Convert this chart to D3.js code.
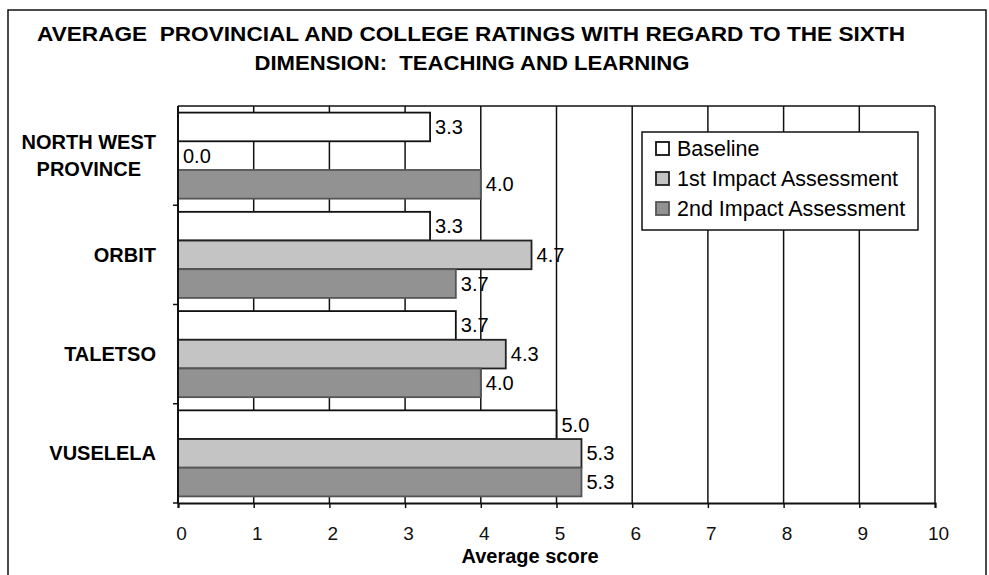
<!DOCTYPE html>
<html>
<head>
<meta charset="utf-8">
<script src="https://cdn.jsdelivr.net/npm/d3@7/dist/d3.min.js"></script>
<style>
  body { margin: 0; background: #fff; }
  svg { display: block; font-family: "Liberation Sans", Arial, sans-serif; }
</style>
</head>
<body>
<script>
'use strict';

// chart data
const categories = ["NORTH WEST PROVINCE", "ORBIT", "TALETSO", "VUSELELA"];
const categoryLines = [["NORTH WEST", "PROVINCE"], ["ORBIT"], ["TALETSO"], ["VUSELELA"]];
const seriesNames = ["Baseline", "1st Impact Assessment", "2nd Impact Assessment"];
const baseline = [3.33, 3.33, 3.67, 5.0];
const firstImpact = [0.0, 4.67, 4.33, 5.33];
const secondImpact = [4.0, 3.67, 4.0, 5.33];
const xTicks = [0, 1, 2, 3, 4, 5, 6, 7, 8, 9, 10];
const titleLines = ["AVERAGE  PROVINCIAL AND COLLEGE RATINGS WITH REGARD TO THE SIXTH",
                    "DIMENSION:  TEACHING AND LEARNING"];

(function() {

  let svg = "";

  window.onload = function() {
    svg = d3.select('body')
      .append('svg')
      .attr('width', 989)
      .attr('height', 575);

    makeBarChart();
  }

  function makeBarChart() {
    // outer frame of the chart
    svg.append('rect')
      .attr('x', 8).attr('y', 10)
      .attr('width', 978).attr('height', 575)
      .attr('fill', 'none')
      .attr('stroke', '#111')
      .attr('stroke-width', 1.5);

    // title, two lines
    let titleX = [471, 472];
    let titleLen = [868, 435];
    let titleY = [41, 70];
    titleLines.forEach((t, i) => {
      svg.append('text')
        .attr('x', titleX[i])
        .attr('y', titleY[i])
        .attr('text-anchor', 'middle')
        .attr('textLength', titleLen[i])
        .attr('lengthAdjust', 'spacingAndGlyphs')
        .style('font-size', '21px')
        .style('font-weight', 'bold')
        .style('white-space', 'pre')
        .text(t);
    });

    // scales
    let x = d3.scaleLinear()
      .domain([0, 10])
      .range([178, 935]);

    let y0 = d3.scaleBand()
      .domain(categories)
      .range([106, 503]);

    let y1 = d3.scaleBand()
      .domain(seriesNames)
      .range([0, y0.bandwidth()])
      .paddingOuter(0.23);

    // rows for bars
    let rows = [];
    categories.forEach((c, i) => {
      rows.push({cat: c, series: seriesNames[0], value: baseline[i]});
      rows.push({cat: c, series: seriesNames[1], value: firstImpact[i]});
      rows.push({cat: c, series: seriesNames[2], value: secondImpact[i]});
    });

    let fills = d3.scaleOrdinal()
      .domain(seriesNames)
      .range(['#ffffff', '#c4c4c4', '#929292']);
    let strokes = d3.scaleOrdinal()
      .domain(seriesNames)
      .range(['#111', '#222', '#555']);

    // vertical gridlines
    svg.append('g')
      .selectAll('line')
      .data(xTicks.slice(1))
      .enter()
      .append('line')
        .attr('x1', (d) => x(d))
        .attr('x2', (d) => x(d))
        .attr('y1', y0.range()[0])
        .attr('y2', y0.range()[1])
        .attr('stroke', '#111')
        .attr('stroke-width', 1.5);

    // plot area top border
    svg.append('line')
      .attr('x1', x(0)).attr('x2', x(10))
      .attr('y1', y0.range()[0]).attr('y2', y0.range()[0])
      .attr('stroke', '#111')
      .attr('stroke-width', 1.5);

    // bars
    svg.append('g')
      .selectAll('rect')
      .data(rows)
      .enter()
      .append('rect')
        .attr('x', x(0))
        .attr('y', (d) => y0(d.cat) + y1(d.series))
        .attr('width', (d) => x(d.value) - x(0))
        .attr('height', y1.bandwidth())
        .attr('fill', (d) => fills(d.series))
        .attr('stroke', (d) => strokes(d.series))
        .attr('stroke-width', 1.8);

    // value labels
    svg.append('g')
      .selectAll('text')
      .data(rows)
      .enter()
      .append('text')
        .attr('x', (d) => x(d.value) + 5)
        .attr('y', (d) => y0(d.cat) + y1(d.series) + y1.bandwidth() / 2)
        .attr('dy', '0.35em')
        .style('font-size', '20px')
        .text((d) => d.value.toFixed(1));

    // x axis at bottom
    let xAxis = d3.axisBottom(x)
      .tickValues(xTicks)
      .tickFormat(d3.format('d'))
      .tickSize(5)
      .tickPadding(19);
    let gx = svg.append('g')
      .attr('transform', 'translate(0, 503)')
      .call(xAxis);
    gx.select('.domain').attr('stroke', '#111').attr('stroke-width', 2);
    gx.selectAll('.tick line').attr('stroke', '#111').attr('stroke-width', 1.5);
    gx.selectAll('.tick text')
      .attr('fill', '#111')
      .attr('dx', 3)
      .style('font-size', '19px')
      .style('font-family', '"Liberation Sans", Arial, sans-serif');

    // y axis line and ticks between categories
    svg.append('line')
      .attr('x1', x(0)).attr('x2', x(0))
      .attr('y1', y0.range()[0]).attr('y2', y0.range()[1])
      .attr('stroke', '#111')
      .attr('stroke-width', 2);
    svg.append('g')
      .selectAll('line')
      .data(categories)
      .enter()
      .append('line')
        .attr('x1', x(0) - 5)
        .attr('x2', x(0))
        .attr('y1', (d) => y0(d) + y0.bandwidth())
        .attr('y2', (d) => y0(d) + y0.bandwidth())
        .attr('stroke', '#111')
        .attr('stroke-width', 1.5);

    // category labels, right aligned block, lines centred in it
    categories.forEach((c, i) => {
      let lines = categoryLines[i];
      let g = svg.append('g');
      let cy = y0(c) + y0.bandwidth() / 2;
      let texts = lines.map((l, j) => g.append('text')
        .attr('y', cy + (j - (lines.length - 1) / 2) * 27)
        .attr('dy', '0.35em')
        .attr('text-anchor', 'middle')
        .style('font-size', '20px')
        .style('font-weight', 'bold')
        .text(l));
      let w = d3.max(texts.map((t) => t.node().getComputedTextLength()));
      texts.forEach((t) => t.attr('x', 156 - w / 2));
    });

    // x axis title
    svg.append('text')
      .attr('x', 530)
      .attr('y', 556)
      .attr('dy', '0.35em')
      .attr('text-anchor', 'middle')
      .style('font-size', '20px')
      .style('font-weight', 'bold')
      .text('Average score');

    legend(fills, strokes);
  }

  // legend box in the upper right of the plot
  function legend(fills, strokes) {
    let lg = svg.append('g');
    lg.append('rect')
      .attr('x', 642).attr('y', 132)
      .attr('width', 276).attr('height', 98)
      .attr('fill', '#fff')
      .attr('stroke', '#111')
      .attr('stroke-width', 1.5);

    let items = lg.selectAll('.item')
      .data(seriesNames)
      .enter()
      .append('g')
        .attr('transform', (d, i) => 'translate(656,' + (148 + i * 30) + ')');

    items.append('rect')
      .attr('x', 0).attr('y', -6)
      .attr('width', 13).attr('height', 13)
      .attr('fill', (d) => fills(d))
      .attr('stroke', (d) => strokes(d))
      .attr('stroke-width', 1.8);

    items.append('text')
      .attr('x', 21)
      .attr('dy', '0.35em')
      .style('font-size', '21.5px')
      .text((d) => d);
  }

})();
</script>
</body>
</html>
